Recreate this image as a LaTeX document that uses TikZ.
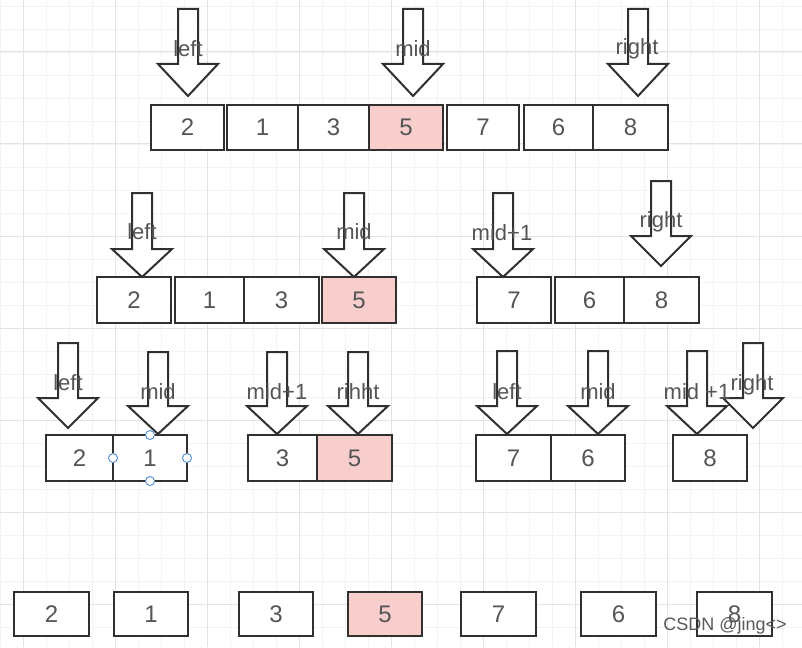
\documentclass[tikz,border=0pt]{standalone}
\usepackage{fontspec}
\setmainfont{Liberation Sans}
\definecolor{pinkfill}{HTML}{F8CECC}
\definecolor{txtgray}{HTML}{555555}
\definecolor{linecol}{HTML}{303030}
\definecolor{gridminor}{HTML}{F3F3F3}
\definecolor{gridmajor}{HTML}{E3E3E3}
\definecolor{handleblue}{HTML}{5B95D6}
\newcommand\cellbox[7]{%
  \node[cell,#7,minimum width={#3pt-#2pt},minimum height={#5pt-#4pt}] (#1) at ({(#2+#3)/2},{(#4+#5)/2}) {#6};}
\newcommand\blockarrow[4]{%
  \draw[blk] ({#1-10},#2) -- ({#1+10},#2) -- ({#1+10},#3) -- ({#1+30},#3) -- (#1,#4) -- ({#1-30},#3) -- ({#1-10},#3) -- cycle;}
\begin{document}
\begin{tikzpicture}[x=1pt,y=-1pt,
  cell/.style={draw=linecol,line width=2pt,fill=white,inner sep=0pt,text=txtgray,font=\fontsize{24}{28}\selectfont},
  pinkcell/.style={fill=pinkfill},
  plain/.style={},
  blk/.style={draw=linecol,line width=2pt,fill=white,line join=miter},
  lbl/.style={text=txtgray,inner sep=0pt,font=\fontsize{22}{26}\selectfont},
  handle/.style={draw=handleblue,fill=white,line width=1pt,circle,inner sep=0pt,minimum size=9pt}]
\useasboundingbox (0,0) rectangle (802,647);
\fill[white] (0,0) rectangle (802,647);
% grid
\foreach \k in {0,...,34} {\draw[gridminor,line width=0.8pt] ({23*\k},0) -- ({23*\k},647);}
\foreach \k in {0,...,28} {\draw[gridminor,line width=0.8pt] (0,{6+23*\k}) -- (802,{6+23*\k});}
\foreach \k in {0,...,8} {\draw[gridmajor,line width=1pt] ({23+92*\k},0) -- ({23+92*\k},647);}
\foreach \k in {0,...,6} {\draw[gridmajor,line width=1pt] (0,{52+92*\k}) -- (802,{52+92*\k});}
% row 1
\cellbox{a1}{151}{224}{105}{150}{2}{plain}
\cellbox{a2}{227}{298}{105}{150}{1}{plain}
\cellbox{a3}{298}{369}{105}{150}{3}{plain}
\cellbox{a4}{369}{443}{105}{150}{5}{pinkcell}
\cellbox{a5}{447}{519}{105}{150}{7}{plain}
\cellbox{a6}{524}{593}{105}{150}{6}{plain}
\cellbox{a7}{593}{668}{105}{150}{8}{plain}
\blockarrow{188}{9}{64}{96}
\blockarrow{413}{9}{64}{96}
\blockarrow{638}{9}{64}{96}
\node[lbl] (la1) at (188,49) {left};
\node[lbl] (la2) at (413,49) {mid};
\node[lbl] (la3) at (637,49) {right};
% row 2
\cellbox{b1}{97}{171}{277}{323}{2}{plain}
\cellbox{b2}{175}{244}{277}{323}{1}{plain}
\cellbox{b3}{244}{319}{277}{323}{3}{plain}
\cellbox{b4}{322}{396}{277}{323}{5}{pinkcell}
\cellbox{b5}{477}{551}{277}{323}{7}{plain}
\cellbox{b6}{555}{624}{277}{323}{6}{plain}
\cellbox{b7}{624}{699}{277}{323}{8}{plain}
\blockarrow{142}{193}{249}{277}
\blockarrow{354}{193}{249}{277}
\blockarrow{503}{193}{249}{277}
\blockarrow{661}{181}{236}{266}
\node[lbl] (lb1) at (142,232) {left};
\node[lbl] (lb2) at (354,232) {mid};
\node[lbl] (lb3) at (502,233) {mid+1};
\node[lbl] (lb4) at (661,222) {right};
% row 3
\cellbox{c1}{46}{113}{435}{481}{2}{plain}
\cellbox{c2}{113}{187}{435}{481}{1}{plain}
\cellbox{c3}{248}{317}{435}{481}{3}{plain}
\cellbox{c4}{317}{392}{435}{481}{5}{pinkcell}
\cellbox{c5}{476}{551}{435}{481}{7}{plain}
\cellbox{c6}{551}{625}{435}{481}{6}{plain}
\cellbox{c7}{673}{747}{435}{481}{8}{plain}
\blockarrow{68}{343}{398}{428}
\blockarrow{158}{352}{406}{434}
\blockarrow{277}{352}{406}{434}
\blockarrow{358}{352}{406}{434}
\blockarrow{507}{351}{406}{434}
\blockarrow{598}{351}{406}{434}
\blockarrow{697}{351}{406}{434}
\blockarrow{753}{343}{398}{428}
\node[lbl] (lc1) at (68,383) {left};
\node[lbl] (lc2) at (158,392) {mid};
\node[lbl] (lc3) at (277,392) {mid+1};
\node[lbl] (lc4) at (358,392) {rihht};
\node[lbl] (lc5) at (507,392) {left};
\node[lbl] (lc6) at (598,392) {mid};
\node[lbl] (lc7) at (697,392) {mid +1};
\node[lbl] (lc8) at (752,385) {right};
% selection handles on box c2
\node[handle] (h1) at (150,435) {};
\node[handle] (h2) at (113,458) {};
\node[handle] (h3) at (187,458) {};
\node[handle] (h4) at (150,481) {};
% row 4
\cellbox{d1}{14}{89}{592}{636}{2}{plain}
\cellbox{d2}{114}{188}{592}{636}{1}{plain}
\cellbox{d3}{239}{313}{592}{636}{3}{plain}
\cellbox{d4}{348}{422}{592}{636}{5}{pinkcell}
\cellbox{d5}{461}{536}{592}{636}{7}{plain}
\cellbox{d6}{581}{656}{592}{636}{6}{plain}
\cellbox{d7}{697}{772}{592}{636}{8}{plain}
% watermark
\node[text=black!65,inner sep=0pt,font=\fontsize{18}{20}\selectfont] (wm) at (725,626) {CSDN @jing<>};
\end{tikzpicture}
\end{document}
